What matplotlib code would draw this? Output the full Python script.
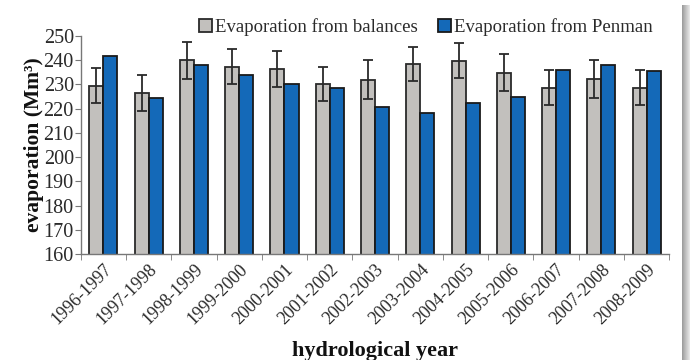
import numpy as np
import matplotlib.pyplot as plt
from matplotlib.patches import Rectangle
from matplotlib.transforms import ScaledTranslation

years = ['1996-1997', '1997-1998', '1998-1999', '1999-2000', '2000-2001',
         '2001-2002', '2002-2003', '2003-2004', '2004-2005', '2005-2006',
         '2006-2007', '2007-2008', '2008-2009']
balances = [229.5, 226.4, 240.0, 237.4, 236.3, 230.2, 231.9, 238.4, 239.8,
            234.9, 228.7, 232.3, 228.7]
balances_err = [7.2, 7.4, 7.6, 7.4, 7.5, 7.2, 8.0, 7.0, 7.2, 7.7, 7.2, 7.7, 7.2]
penman = [241.8, 224.6, 238.1, 233.8, 230.4, 228.5, 220.9, 218.4, 222.5,
          225.0, 236.0, 238.1, 235.6]

plt.rcParams['font.family'] = ['Liberation Serif', 'DejaVu Serif']

fig = plt.figure(figsize=(6.9, 3.6), dpi=100)
ax = fig.add_axes([0.117, 0.294, 0.853, 0.606])

x = np.arange(len(years))
w = 0.31
ax.bar(x - w / 2, balances, w, color='#c2c0bd', edgecolor='#2a2a2a',
       linewidth=1.3, yerr=balances_err,
       error_kw=dict(ecolor='#2a2a2a', elinewidth=1.3, capsize=3.5, capthick=1.3),
       label='Evaporation from balances', zorder=2)
ax.bar(x + w / 2, penman, w, color='#1469b8', edgecolor='#1a1a1a',
       linewidth=1.3, label='Evaporation from Penman', zorder=2)

ax.set_ylim(160, 250)
ax.set_yticks(range(160, 251, 10))
ax.set_xlim(-0.5, len(years) - 0.5)
ax.set_xticks(x)
ax.set_xticklabels(years, rotation=45, ha='right', rotation_mode='anchor',
                   fontsize=13, color='#2a2a2a')
shift = ScaledTranslation(12 / 100, -2 / 100, fig.dpi_scale_trans)
for lbl in ax.get_xticklabels():
    lbl.set_transform(lbl.get_transform() + shift)
ax.set_xticks(np.arange(-0.5, len(years)), minor=True)
ax.tick_params(axis='x', which='major', length=0, pad=5)
ax.tick_params(axis='x', which='minor', length=4, color='#777777', direction='out')
ax.tick_params(axis='y', labelsize=14.5, colors='#2a2a2a', length=4, pad=1)
ax.tick_params(axis='y', color='#777777')

for s in ['top', 'right']:
    ax.spines[s].set_visible(False)
for s in ['left', 'bottom']:
    ax.spines[s].set_color('#777777')
    ax.spines[s].set_linewidth(1.0)

ax.set_ylabel('evaporation (Mm³)', fontsize=15.5, fontweight='bold',
              labelpad=0, color='#111111')
ax.set_xlabel('hydrological year', fontsize=16, fontweight='bold', labelpad=9,
              color='#111111')

ax.legend(loc='upper right', bbox_to_anchor=(0.985, 1.115), ncol=2, frameon=False,
          fontsize=13.5, handlelength=0.7, handleheight=0.7, handletextpad=0.15,
          columnspacing=1.1, borderaxespad=0)
for t in ax.get_legend().get_texts():
    t.set_color('#2a2a2a')

# page shadow along the right edge
for i, c in enumerate(np.linspace(0.62, 0.9, 8)):
    fig.add_artist(Rectangle((682 / 690 + i / 690, 0), 1 / 690, 0.985,
                             transform=fig.transFigure, color=str(c), lw=0))

fig.savefig('out.png', dpi=100)
